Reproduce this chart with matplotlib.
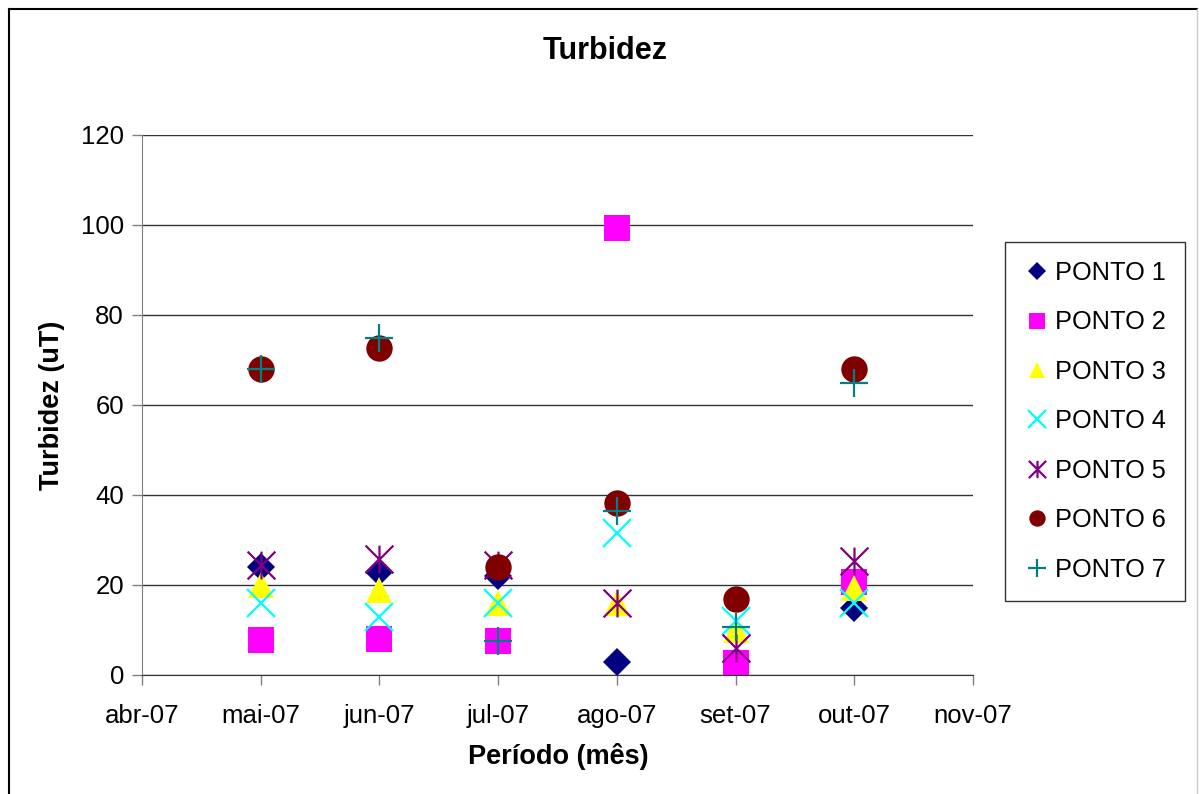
import numpy as np
import matplotlib.pyplot as plt
from matplotlib.path import Path
from matplotlib.lines import Line2D

plt.rcParams['font.family'] = ['Liberation Sans', 'DejaVu Sans']

# meses do eixo x (abr-07 .. nov-07), dados de mai a out
meses = ["abr-07", "mai-07", "jun-07", "jul-07", "ago-07", "set-07", "out-07", "nov-07"]
x_dados = [1, 2, 3, 4, 5, 6]

ponto1 = [24, 23, 22, 3, 3, 15]
ponto2 = [7.8, 8, 7.6, 99.3, 2.7, 20.6]
ponto3 = [20, 19, 16, 16, 10, 19.3]
ponto4 = [16, 13, 16, 31.5, 12, 16]
ponto5 = [24.5, 25.8, 24.5, 16, 6, 25.3]
ponto6 = [68, 72.7, 24, 38.3, 17, 68]
ponto7 = [68, 75, 7.6, 36.5, 10.7, 65]

nomes = ["PONTO 1", "PONTO 2", "PONTO 3", "PONTO 4", "PONTO 5", "PONTO 6", "PONTO 7"]
series = [ponto1, ponto2, ponto3, ponto4, ponto5, ponto6, ponto7]

# asterisco estilo Excel: um x com um traco vertical
asterisco = Path([(-0.5, -0.5), (0.5, 0.5), (-0.5, 0.5), (0.5, -0.5), (0, -0.5), (0, 0.5)],
                 [Path.MOVETO, Path.LINETO, Path.MOVETO, Path.LINETO, Path.MOVETO, Path.LINETO])

estilos = [
    dict(marker="D", color="#000080", ms=14, mew=0),
    dict(marker="s", color="#FF00FF", ms=19, mew=0),
    dict(marker="^", color="#FFFF00", ms=19, mew=0),
    dict(marker="x", color="#00FFFF", ms=20, mew=1.6),
    dict(marker=asterisco, color="#800080", ms=20, mew=1.6),
    dict(marker="o", color="#800000", ms=19, mew=0),
    dict(marker="+", color="#008080", ms=20, mew=1.6),
]

W, H = 1199, 794
fig = plt.figure(figsize=(W/100, H/100), dpi=100)
ax = fig.add_axes([142/W, 1-675/H, (973-142)/W, (675-135)/H])

for nome, y, est in zip(nomes, series, estilos):
    ax.plot(x_dados, y, linestyle="none", label=nome, marker=est["marker"],
            color=est["color"], markersize=est["ms"], markeredgewidth=est["mew"],
            clip_on=False)

ax.set_xlim(0, 7)
ax.set_ylim(0, 120)
ax.set_xticks(range(len(meses)))
ax.set_xticklabels(meses)
ax.set_yticks(np.arange(0, 121, 20))
ax.yaxis.grid(True, color="#333333", linewidth=1.0)
ax.set_axisbelow(True)
for lado in ["top", "right"]:
    ax.spines[lado].set_visible(False)
ax.spines["left"].set_color("#808080")
ax.spines["bottom"].set_color("#333333")
ax.tick_params(axis="both", direction="out", length=7, width=1, labelsize=18.5,
               color="#808080", pad=6)
ax.tick_params(axis="x", pad=14)

# titulos posicionados em pixels da figura
fig.text(605/W, 1-51/H, "Turbidez", fontsize=22, fontweight="bold", ha="center", va="center")
fig.text(52/W, 1-405/H, "Turbidez (uT)", fontsize=19.5, fontweight="bold",
         ha="center", va="center", rotation=90)
fig.text(558/W, 1-757/H, "Período (mês)", fontsize=19.5, fontweight="bold", ha="center", va="center")

leg = ax.legend(loc="upper left", bbox_to_anchor=(1005/W, 1-242/H),
                bbox_transform=fig.transFigure, fontsize=18.3, frameon=True,
                fancybox=False, edgecolor="black", markerscale=0.62,
                labelspacing=1.0, handlelength=1.0, handletextpad=0.22,
                borderpad=0.75, borderaxespad=0)
leg.get_frame().set_linewidth(1.0)

# borda da area do grafico
fig.add_artist(Line2D([9/W, 9/W], [0, 1-9/H], transform=fig.transFigure,
                      color="black", linewidth=1.5))
fig.add_artist(Line2D([9/W, 1197/W], [1-9/H, 1-9/H], transform=fig.transFigure,
                      color="black", linewidth=1.5))
fig.add_artist(Line2D([1197/W, 1197/W], [0, 1-9/H], transform=fig.transFigure,
                      color="#cccccc", linewidth=1.0))

fig.savefig("out.png", dpi=100)
